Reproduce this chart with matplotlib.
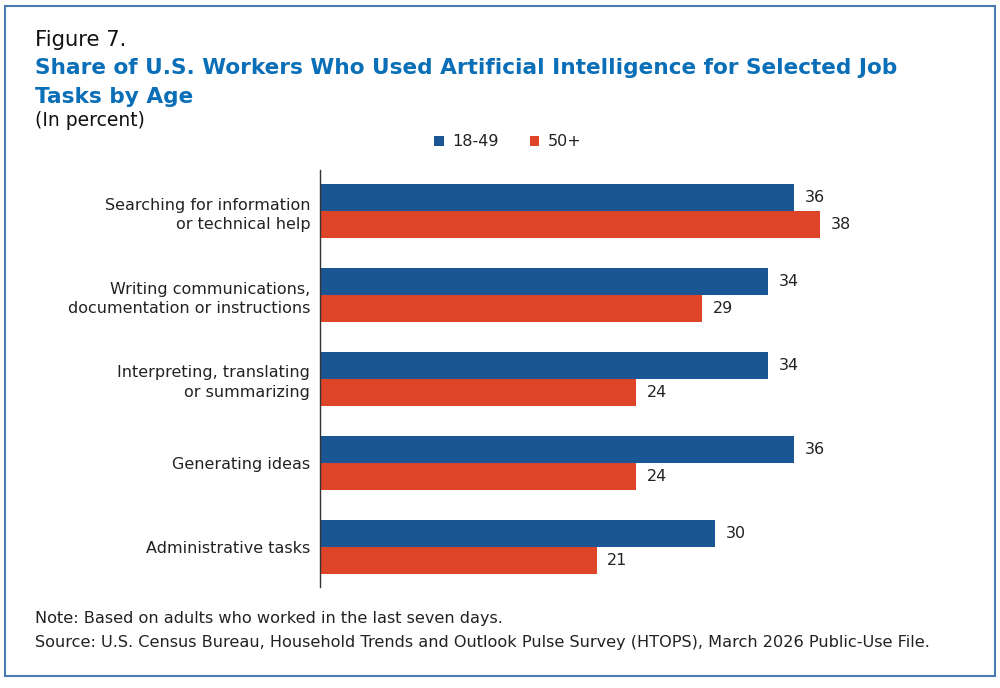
import numpy as np
import matplotlib.pyplot as plt
from matplotlib.patches import Rectangle

plt.rcParams['font.family'] = ['DejaVu Sans']

# data
tasks = ['Searching for information\nor technical help',
         'Writing communications,\ndocumentation or instructions',
         'Interpreting, translating\nor summarizing',
         'Generating ideas',
         'Administrative tasks']
young = [36, 34, 34, 36, 30]
older = [38, 29, 24, 24, 21]
series_names = ['18-49', '50+']

blue = '#1b5694'
red = '#de4428'
title_blue = '#0b6fb8'
text_col = '#222222'

fig = plt.figure(figsize=(10, 6.88), dpi=100)
W, H = 1000, 688

# border round the figure
fig.patches.append(Rectangle((5 / W, 1 - 676 / H), 990 / W, 670 / H,
                             transform=fig.transFigure, fill=False,
                             edgecolor='#4a7ab4', linewidth=1.5))

ax = fig.add_axes([320 / W, 1 - 587 / H, 50 * 13.17 / W, 417 / H])

y = np.arange(len(tasks))
h = 0.32
b1 = ax.barh(y - h / 2, young, height=h, color=blue, label=series_names[0])
b2 = ax.barh(y + h / 2, older, height=h, color=red, label=series_names[1])

for bars in (b1, b2):
    for rect in bars:
        v = rect.get_width()
        ax.text(v + 0.8, rect.get_y() + rect.get_height() / 2, f'{v:.0f}',
                va='center', ha='left', fontsize=11.5, color=text_col)

ax.set_xlim(0, 50)
ax.set_ylim(4.48, -0.49)
ax.set_yticks(y)
ax.set_yticklabels(tasks, fontsize=11.5, color=text_col, ha='right',
                   linespacing=1.4)
ax.tick_params(axis='y', length=0, pad=7)
ax.set_xticks([])
for s in ['top', 'right', 'bottom']:
    ax.spines[s].set_visible(False)
ax.spines['left'].set_color('#333333')
ax.spines['left'].set_linewidth(1)

# legend
fig.legend(handles=[b1, b2], labels=series_names, loc='center',
           bbox_to_anchor=(508 / W, 1 - 142 / H), ncol=2, frameon=False,
           fontsize=11.5, handlelength=0.6, handleheight=0.6,
           handletextpad=0.56, columnspacing=1.9, labelcolor=text_col)

# titles
fig.text(35 / W, 1 - 40 / H, 'Figure 7.', fontsize=15.2, color='#111111',
         va='center', ha='left')
fig.text(35 / W, 1 - 68 / H,
         'Share of U.S. Workers Who Used Artificial Intelligence for Selected Job',
         fontsize=15.6, fontweight='bold', color=title_blue, va='center', ha='left')
fig.text(35 / W, 1 - 97 / H, 'Tasks by Age', fontsize=15.6, fontweight='bold',
         color=title_blue, va='center', ha='left')
fig.text(35 / W, 1 - 120 / H, '(In percent)', fontsize=13.5, color='#111111',
         va='center', ha='left')

# notes
fig.text(35 / W, 1 - 619 / H, 'Note: Based on adults who worked in the last seven days.',
         fontsize=11.6, color=text_col, va='center', ha='left')
fig.text(35 / W, 1 - 643 / H,
         'Source: U.S. Census Bureau, Household Trends and Outlook Pulse Survey (HTOPS), March 2026 Public-Use File.',
         fontsize=11.6, color=text_col, va='center', ha='left')

plt.savefig('out.png', dpi=100)
